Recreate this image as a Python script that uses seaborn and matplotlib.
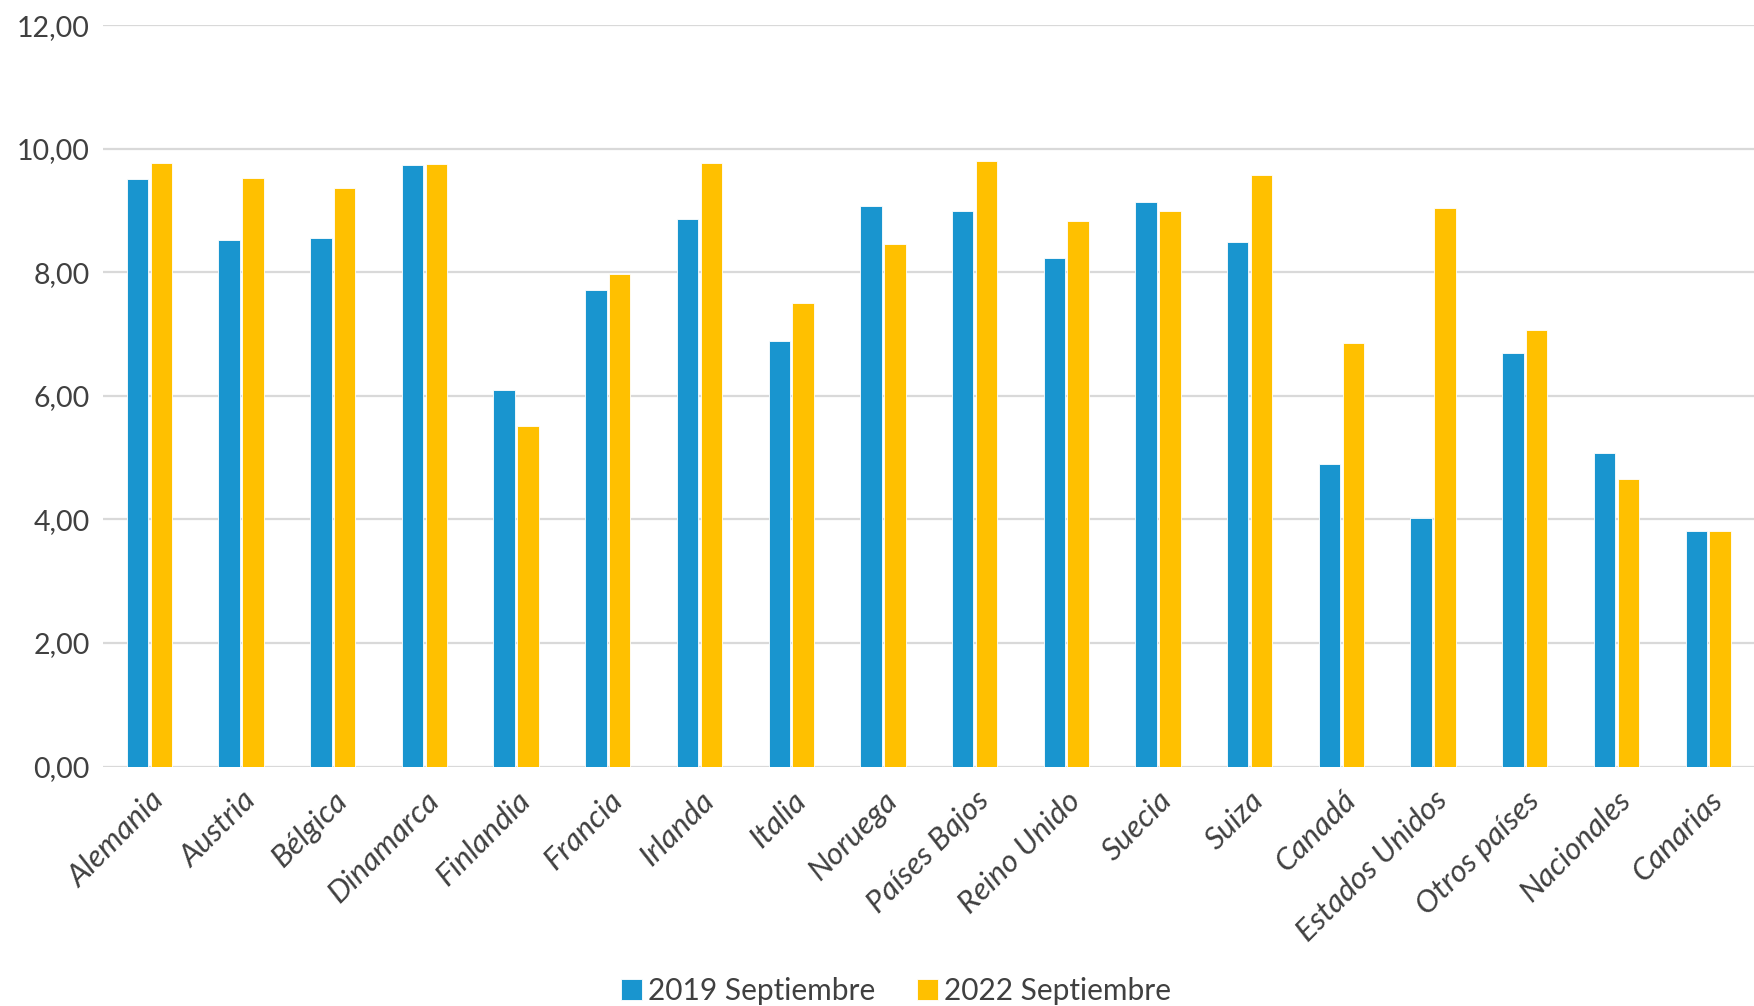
import seaborn as sns
import matplotlib.pyplot as plt
import pandas as pd

# data
paises = ['Alemania', 'Austria', 'Bélgica', 'Dinamarca', 'Finlandia', 'Francia',
          'Irlanda', 'Italia', 'Noruega', 'Países Bajos', 'Reino Unido', 'Suecia',
          'Suiza', 'Canadá', 'Estados Unidos', 'Otros países', 'Nacionales', 'Canarias']
sep_2019 = [9.51, 8.52, 8.56, 9.73, 6.10, 7.71, 8.87, 6.88, 9.08, 8.99, 8.23, 9.14,
            8.49, 4.90, 4.03, 6.70, 5.07, 3.81]
sep_2022 = [9.77, 9.53, 9.37, 9.75, 5.51, 7.97, 9.77, 7.51, 8.45, 9.80, 8.83, 9.00,
            9.57, 6.86, 9.04, 7.06, 4.65, 3.81]
series = ['2019 Septiembre', '2022 Septiembre']
colores = ['#1995CF', '#FFC000']
y_ticks = [0, 2, 4, 6, 8, 10, 12]

df = pd.DataFrame({
    'pais': paises * 2,
    'valor': sep_2019 + sep_2022,
    'serie': [series[0]] * len(paises) + [series[1]] * len(paises),
})

sns.set_theme(style='white')
plt.rcParams['font.family'] = ['Lato', 'DejaVu Sans']

fig = plt.figure(figsize=(17.54, 10.06), dpi=100)
ax = fig.add_axes([0.059, 0.238, 0.941, 0.737])

sns.barplot(data=df, x='pais', y='valor', hue='serie', palette=colores,
            saturation=1, width=0.52, gap=0.1, edgecolor='white', linewidth=0.6,
            ax=ax, zorder=3)

ax.set_ylim(0, 12)
ax.set_xlim(-0.5, len(paises) - 0.5)
ax.set_yticks(y_ticks)
ax.set_yticklabels([f'{t:.2f}'.replace('.', ',') for t in y_ticks],
                   fontsize=20.5, color='#404040')
ax.yaxis.grid(True, color='#d9d9d9', linewidth=1.6, zorder=0)
ax.set_axisbelow(True)
for s in ax.spines.values():
    s.set_visible(False)
ax.tick_params(axis='both', length=0, pad=10)
ax.tick_params(axis='x', pad=14)
ax.set_xticks(range(len(paises)))
ax.set_xticklabels(paises, rotation=45, ha='right', rotation_mode='anchor',
                   fontsize=22.5, style='italic', color='#404040')
ax.set_xlabel('')
ax.set_ylabel('')

ax.get_legend().remove()
handles, labels = ax.get_legend_handles_labels()
fig.legend(handles, labels, loc='lower center', bbox_to_anchor=(0.511, -0.026),
           ncol=2, frameon=False, fontsize=21.5, handlelength=0.7, handleheight=0.7,
           handletextpad=0.2, columnspacing=1.4, labelcolor='#404040')

fig.savefig('out.png', dpi=100)
